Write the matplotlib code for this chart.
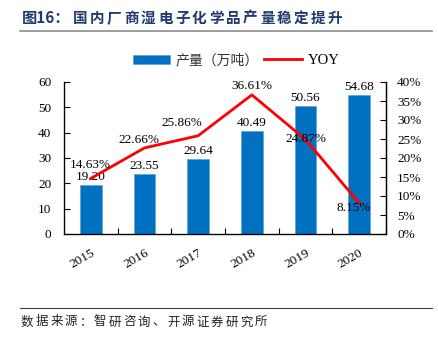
import matplotlib
matplotlib.use("Agg")
import matplotlib.pyplot as plt
from matplotlib.lines import Line2D
from matplotlib.patches import Patch
import numpy as np

years = ["2015", "2016", "2017", "2018", "2019", "2020"]
output = [19.20, 23.55, 29.64, 40.49, 50.56, 54.68]
yoy = [14.63, 22.66, 25.86, 36.61, 24.87, 8.15]
left_ticks = [0, 10, 20, 30, 40, 50, 60]
right_ticks = [0, 5, 10, 15, 20, 25, 30, 35, 40]
title = "图16：国内厂商湿电子化学品产量稳定提升"
source = "数据来源：智研咨询、开源证券研究所"
legend_labels = ["产量（万吨）", "YOY"]

CJK = ["Noto Sans CJK SC", "DejaVu Sans"]
SERIF = ["Liberation Serif", "DejaVu Serif"]
W, H = 438, 337
fig = plt.figure(figsize=(W / 100, H / 100), dpi=100)


def spaced_text(s, x0, y0, pitch, **kw):
    # place characters with a fixed pitch (pixel coordinates)
    x = x0
    for ch in s:
        fig.text(x / W, 1 - y0 / H, ch, ha="left", va="center", **kw)
        x += pitch


# title
fig.text(22 / W, 1 - 18 / H, "图16：", ha="left", va="center", fontsize=11,
         fontweight="bold", color="#1F3A6E", family=CJK)
spaced_text(title[4:], 73, 18, 17.0, fontsize=10.5, fontweight="bold",
            color="#1F3A6E", family=CJK)
fig.add_artist(Line2D([20 / W, 432 / W], [1 - 30.5 / H, 1 - 30.5 / H],
                      color="#8C8C8C", lw=1.2))

# source
fig.add_artist(Line2D([20 / W, 432 / W], [1 - 308 / H, 1 - 308 / H],
                      color="#404040", lw=0.8))
spaced_text(source, 21, 322, 14.6, fontsize=9, color="#222222", family=CJK)

ax = fig.add_axes([64 / W, 1 - 234 / H, (386 - 64) / W, (234 - 82) / H])
x = np.arange(len(years))
bars = ax.bar(x, output, width=0.4, color="#0070C0", edgecolor="#5BA3D9",
              linewidth=0.5, zorder=2)
ax.set_xlim(-0.5, len(years) - 0.5)
ax.set_ylim(0, 60)
ax.set_yticks(left_ticks)
ax.set_yticklabels([str(v) for v in left_ticks], family=SERIF, fontsize=9.5)
ax.set_xticks(x)
ax.set_xticklabels(years, rotation=30, ha="right", va="top",
                   rotation_mode="anchor", family=SERIF, fontsize=9.5)
ax.tick_params(axis="x", which="major", length=0, pad=9)
ax.set_xticks(np.arange(len(years)) + 0.5, minor=True)
ax.tick_params(axis="x", which="minor", direction="in", length=4, width=0.8)
ax.tick_params(axis="y", direction="in", length=4, width=0.8, pad=9)
ax.spines["top"].set_visible(False)
for s in ["left", "bottom", "right"]:
    ax.spines[s].set_linewidth(0.9)

for xi, v in zip(x, output):
    ax.annotate(f"{v:.2f}", (xi, v), xytext=(0, 2), textcoords="offset pixels",
                ha="center", va="bottom", family=SERIF, fontsize=9.5, zorder=5)

ax2 = ax.twinx()
ax2.set_ylim(0, 40)
ax2.set_yticks(right_ticks)
ax2.set_yticklabels([f"{v}%" for v in right_ticks], family=SERIF, fontsize=9.5)
ax2.tick_params(axis="y", direction="in", length=4, width=0.8, pad=8)
ax2.spines["top"].set_visible(False)
ax2.spines["right"].set_linewidth(0.9)
ax2.plot(x, yoy, color="#FF0000", lw=2, zorder=3)

offsets = [(-1, 13), (-6, 8), (-16, 13), (0, 9), (0, 0), (-5, -5)]
for xi, v, (dx, dy) in zip(x, yoy, offsets):
    ax2.annotate(f"{v:.2f}%", (xi, v), xytext=(dx, dy), textcoords="offset pixels",
                 ha="center", va="center", family=SERIF, fontsize=9.5, zorder=5)

handles = [Patch(facecolor="#0070C0", edgecolor="#5BA3D9", lw=0.5),
           Line2D([], [], color="#FF0000", lw=2)]
leg = fig.legend(handles, legend_labels, loc="center", bbox_to_anchor=(236 / W, 1 - 60 / H),
                 ncol=2, frameon=False, handlelength=2.7, handleheight=0.6,
                 columnspacing=0.4, handletextpad=0.4,
                 prop={"family": CJK, "size": 10})
for t in leg.get_texts():
    t.set_color("#333333")
leg.get_texts()[1].set_fontfamily(SERIF)
leg.get_texts()[1].set_fontsize(10.5)
leg.get_texts()[1].set_color("#000000")

fig.savefig("out.png", dpi=100)
